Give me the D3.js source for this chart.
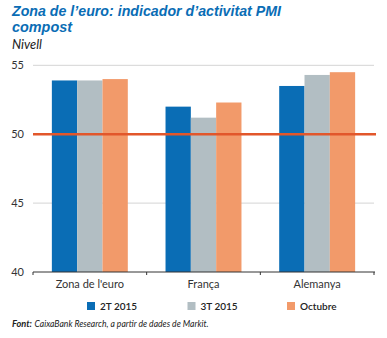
<!DOCTYPE html>
<html><head><meta charset="utf-8">
<script src="https://cdn.jsdelivr.net/npm/d3@7"></script>
<style>
body{margin:0;background:#fff;}
svg{display:block;font-family:Lato,"Open Sans",sans-serif;}
</style></head>
<body>
<svg id="c" width="387" height="338"></svg>
<script>
const categories = ["Zona de l'euro", "França", "Alemanya"];
const seriesNames = ["2T 2015", "3T 2015", "Octubre"];
const s2T2015 = [53.9, 52.0, 53.5];
const s3T2015 = [53.9, 51.2, 54.3];
const sOctubre = [54.0, 52.3, 54.5];
const yTicks = [40, 45, 50, 55];
const colors = ["#0a6db5", "#b2bec3", "#f29a6a"];
const refValue = 50;

const seriesValues = [s2T2015, s3T2015, sOctubre];
const svg = d3.select("#c");

const pLeft = 33, pRight = 374, pTop = 65.3, pBottom = 272;
const x0 = d3.scaleBand().domain(categories).range([pLeft, pRight]).padding(0);
const x1 = d3.scaleBand().domain(seriesNames).range([0, x0.bandwidth()]).paddingInner(0).paddingOuter(0.745);
const y = d3.scaleLinear().domain([40, 55]).range([pBottom, pTop]);

// title
const titleFont = "'Liberation Sans', Arial, sans-serif";
svg.append("text").attr("x", 12).attr("y", 15.5).attr("fill", "#0a6db5")
  .style("font-family", titleFont)
  .attr("font-size", 14.2).attr("font-weight", "bold").attr("font-style", "italic")
  .attr("textLength", 269).attr("lengthAdjust", "spacingAndGlyphs")
  .text("Zona de l’euro: indicador d’activitat PMI");
svg.append("text").attr("x", 12).attr("y", 31.5).attr("fill", "#0a6db5")
  .style("font-family", titleFont)
  .attr("font-size", 14.2).attr("font-weight", "bold").attr("font-style", "italic")
  .attr("textLength", 60).attr("lengthAdjust", "spacingAndGlyphs")
  .text("compost");
svg.append("text").attr("x", 12).attr("y", 48.5).attr("fill", "#222")
  .attr("font-size", 12.5).attr("font-style", "italic")
  .attr("textLength", 30).attr("lengthAdjust", "spacingAndGlyphs")
  .text("Nivell");

// gridlines
svg.append("g").selectAll("line").data(yTicks.filter(d => d > 40)).join("line")
  .attr("x1", pLeft).attr("x2", pRight).attr("y1", d => y(d)).attr("y2", d => y(d))
  .attr("stroke", "#d4d4d4").attr("stroke-width", 1);

// y labels
svg.append("g").selectAll("text").data(yTicks).join("text")
  .attr("x", 24).attr("y", d => y(d)).attr("dy", "0.35em").attr("text-anchor", "end")
  .attr("font-size", 11).attr("fill", "#333").text(d => d);

// bars
const g = svg.append("g").selectAll("g").data(categories).join("g")
  .attr("transform", d => `translate(${x0(d)},0)`);
g.selectAll("rect").data((c, i) => seriesNames.map((s, j) => ({s, v: seriesValues[j][i], j}))).join("rect")
  .attr("x", d => x1(d.s)).attr("width", x1.bandwidth())
  .attr("y", d => y(d.v)).attr("height", d => y(40) - y(d.v))
  .attr("fill", d => colors[d.j]);

// x axis
const xAxis = svg.append("g").attr("transform", `translate(0,${pBottom})`);
xAxis.append("line").attr("x1", pLeft).attr("x2", pRight + 1).attr("stroke", "#333").attr("stroke-width", 1);
const bounds = categories.map(c => x0(c)).concat([pRight]);
xAxis.selectAll("line.t").data(bounds).join("line").attr("class", "t")
  .attr("x1", d => d).attr("x2", d => d).attr("y1", 0).attr("y2", 3)
  .attr("stroke", "#333").attr("stroke-width", 1);
xAxis.selectAll("text").data(categories).join("text")
  .attr("x", d => x0(d) + x0.bandwidth() / 2).attr("y", 16)
  .attr("text-anchor", "middle").attr("font-size", 11).attr("fill", "#333").text(d => d);

// reference line
svg.append("line").attr("x1", pLeft).attr("x2", pRight + 2)
  .attr("y1", y(refValue)).attr("y2", y(refValue))
  .attr("stroke", "#e2572b").attr("stroke-width", 2.5);

// legend
const legX = [87, 187.5, 287];
const leg = svg.append("g").selectAll("g").data(seriesNames).join("g")
  .attr("transform", (d, i) => `translate(${legX[i]},302)`);
leg.append("rect").attr("width", 8).attr("height", 8).attr("fill", (d, i) => colors[i]);
leg.append("text").attr("x", 13).attr("y", 7.8).attr("font-size", 10).attr("fill", "#222")
  .attr("font-weight", 600).text(d => d);

// source
svg.append("text").attr("x", 12).attr("y", 327).attr("font-size", 10)
  .attr("font-style", "italic").attr("font-weight", "bold").attr("fill", "#222")
  .attr("textLength", 20).attr("lengthAdjust", "spacingAndGlyphs").text("Font:");
svg.append("text").attr("x", 34.5).attr("y", 327).attr("font-size", 10)
  .attr("font-style", "italic").attr("fill", "#222")
  .attr("textLength", 174).attr("lengthAdjust", "spacingAndGlyphs")
  .text("CaixaBank Research, a partir de dades de Markit.");
</script>
</body></html>
